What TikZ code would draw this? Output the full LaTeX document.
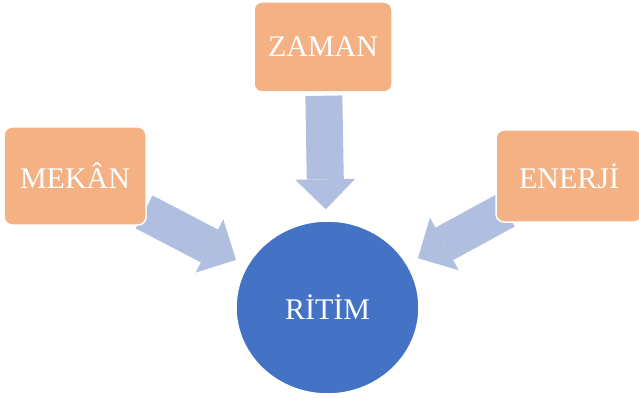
\documentclass[tikz,border=0pt]{standalone}
\usepackage{fontspec}
\setmainfont{Liberation Serif}
\usetikzlibrary{arrows.meta,shapes.geometric,backgrounds}
\definecolor{kutu}{RGB}{244,177,131}
\definecolor{merkez}{RGB}{68,114,196}
\definecolor{ok}{RGB}{176,190,224}
\tikzset{
	kavram/.style={draw=white, line width=1.5pt, fill=kutu, rounded corners=8pt,
		inner sep=0pt, text=white, font=\fontsize{30}{36}\selectfont},
	yon/.style={draw=ok, line width=37pt,
		-{Triangle[width=60pt,length=30pt,line width=0pt]}},
}
\begin{document}
\begin{tikzpicture}[x=1pt,y=-1pt]
	\useasboundingbox (0,0) rectangle (639,398);
	\node[kavram, minimum width=138pt, minimum height=90pt] (zaman) at (323,47) {ZAMAN};
	\node[kavram, minimum width=142pt, minimum height=98pt] (mekan) at (75,176) {MEKÂN};
	\node[kavram, minimum width=146pt, minimum height=92pt] (enerji) at (569,176) {ENERJİ};
	\node[kavram, ellipse, fill=merkez, rounded corners=0pt,
		minimum width=183pt, minimum height=173pt] (ritim) at (327.5,307.5) {RİTİM};
	
	% oklar kutularin altinda
	\begin{scope}[on background layer]
	\draw[yon, shorten <=3pt, shorten >=11pt] (zaman) -- (ritim);
	\draw[yon, shorten <=-3pt, shorten >=12pt] (mekan) -- (ritim);
	\draw[yon, shorten <=-12pt, shorten >=12pt] (enerji) -- (ritim);
	\end{scope}
\end{tikzpicture}
\end{document}
